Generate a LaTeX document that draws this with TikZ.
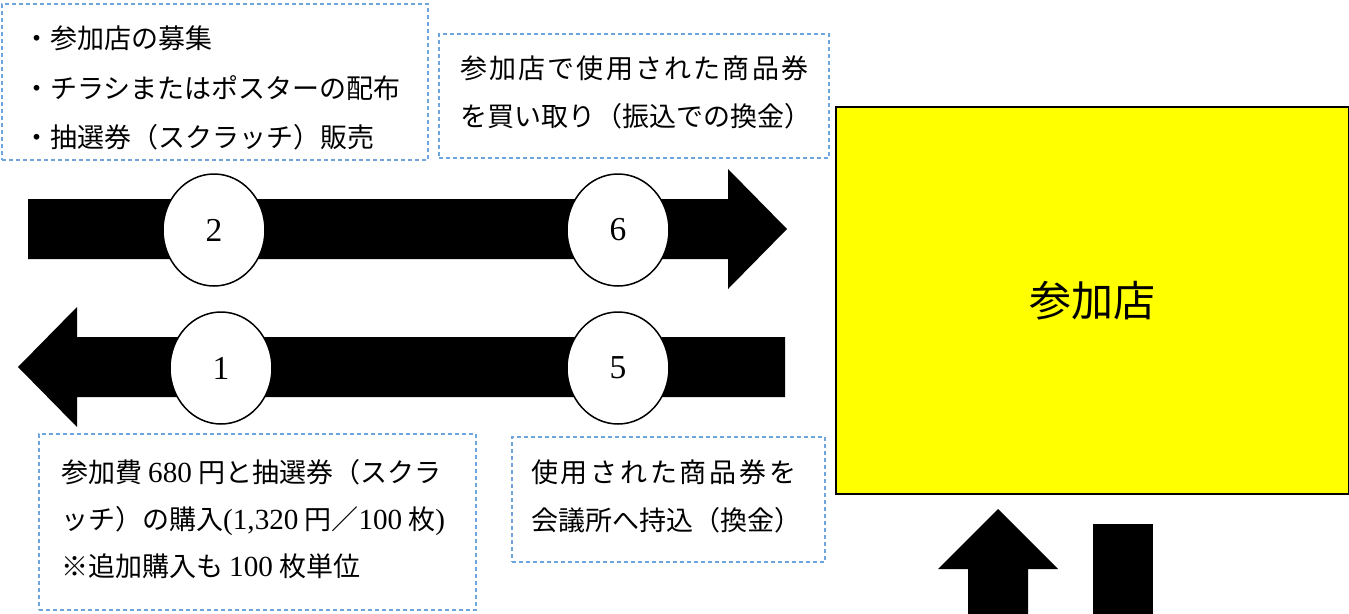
\documentclass[tikz,border=0pt]{standalone}
\usepackage{fontspec}
\newfontfamily\jpfont{Noto Sans CJK JP}
\newfontfamily\numfont{Liberation Serif}[Scale=1.08]
\usetikzlibrary{shapes.geometric}
\definecolor{noteblue}{RGB}{110,165,220}
\definecolor{shopyellow}{RGB}{255,255,0}

% spread the characters of one line over a given width
\makeatletter
\newcommand\spreadline[2]{\makebox[#1][s]{\spread@loop#2\relax}}
\def\spread@loop#1#2{#1\ifx\relax#2\expandafter\@gobble\else\expandafter\@firstofone\fi{\hfil\spread@loop#2}}
\makeatother

\begin{document}
\begin{tikzpicture}[x=1pt,y=-1pt,
notebox/.style={rectangle, draw=noteblue, line width=1.2pt, dash pattern=on 4pt off 3pt, inner sep=0pt},
notetext/.style={anchor=west, align=left, inner sep=0pt, font=\jpfont\fontsize{27}{48}\selectfont},
numcircle/.style={ellipse, draw=black, fill=white, line width=1.5pt, minimum width=102, minimum height=112, inner sep=0pt, font=\numfont\fontsize{31}{31}\selectfont},
shopbox/.style={rectangle, draw=black, fill=shopyellow, line width=2pt, minimum width=513, minimum height=387, font=\jpfont\fontsize{42}{42}\selectfont},
]
\clip (0,0) rectangle (1349,613);

%Boxes
\node[notebox, minimum width=426, minimum height=156] (recruitbox)  at (215,82)  {};
\node[notebox, minimum width=390, minimum height=124] (buybackbox)  at (634,96)  {};
\node[notebox, minimum width=437, minimum height=176] (feebox)      at (257.5,522) {};
\node[notebox, minimum width=313, minimum height=125] (exchangebox) at (668.5,499.5) {};
\node[shopbox] (shop) at (1092.5,300.5) {参加店};

%Texts
\node[notetext, font=\jpfont\fontsize{27}{49.5}\selectfont] (recruit) at (23,88)
  {・参加店の募集\\・チラシまたはポスターの配布\\・抽選券（スクラッチ）販売};
\node[notetext] (buyback) at (460,92)
  {\spreadline{348pt}{参加店で使用された商品券}\\を買い取り（振込での換金）};
\node[notetext, font=\jpfont\fontsize{27}{47}\selectfont] (fee) at (61,519)
  {参加費 {\numfont 680} 円と抽選券（スクラ\\ッチ）の購入{\numfont (1,320} 円／{\numfont 100} 枚{\numfont )}\\※追加購入も {\numfont 100} 枚単位};
\node[notetext] (exchange) at (531,496)
  {\spreadline{265pt}{使用された商品券を}\\会議所へ持込（換金）};

%Arrows
\fill (28,199) -- (728,199) -- (728,169) -- (787,229) -- (728,289) -- (728,259) -- (28,259) -- cycle;
\fill (785,337) -- (77,337) -- (77,307) -- (18,367) -- (77,427) -- (77,397) -- (785,397) -- cycle;
\fill (998,509) -- (1058,569) -- (1028,569) -- (1028,620) -- (968,620) -- (968,569) -- (938,569) -- cycle;
\fill (1093,524) rectangle (1153,620);

%Numbers
\node[numcircle] (c2) at (214,230) {2};
\node[numcircle] (c6) at (618,230) {6};
\node[numcircle] (c1) at (221,368) {1};
\node[numcircle] (c5) at (618,368) {5};
\end{tikzpicture}
\end{document}
